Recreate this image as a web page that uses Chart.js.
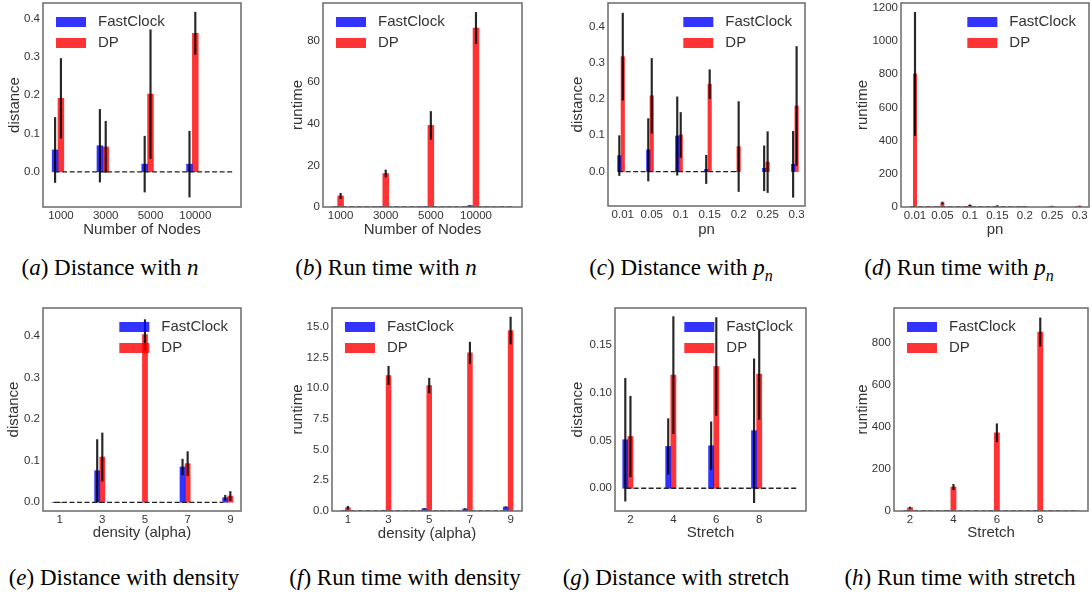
<!DOCTYPE html>
<html lang="en">
<head>
<meta charset="UTF-8">
<title>FastClock vs DP</title>
<style>
  body { margin: 0; background: #fff; }
  #fig { position: relative; width: 1092px; height: 596px; overflow: hidden; }
  #fig canvas { position: absolute; }
  .cap {
    position: absolute;
    font-family: 'Liberation Serif', 'Times New Roman', serif;
    font-size: 23px;
    line-height: 23px;
    color: #000;
    white-space: nowrap;
    transform: translateX(-50%);
  }
  .cap sub { font-size: 16px; line-height: 0; }
</style>
</head>
<body>
<div id="fig">
  <div class="cap" style="left:110px; top:256px">(<i>a</i>) Distance with <i>n</i></div>
  <div class="cap" style="left:386px; top:256px">(<i>b</i>) Run time with <i>n</i></div>
  <div class="cap" style="left:681px; top:256px">(<i>c</i>) Distance with <i>p</i><sub><i>n</i></sub></div>
  <div class="cap" style="left:959px; top:256px">(<i>d</i>) Run time with <i>p</i><sub><i>n</i></sub></div>
  <div class="cap" style="left:124px; top:566px">(<i>e</i>) Distance with density</div>
  <div class="cap" style="left:405px; top:566px">(<i>f</i>) Run time with density</div>
  <div class="cap" style="left:676px; top:566px">(<i>g</i>) Distance with stretch</div>
  <div class="cap" style="left:960px; top:566px">(<i>h</i>) Run time with stretch</div>
</div>

<script src="https://cdn.jsdelivr.net/npm/chart.js"></script>
<script>
// ---- data ----
const seriesNames = ['FastClock', 'DP'];

const nodeLabels = ['1000', '3000', '5000', '10000'];
const pnLabels = ['0.01', '0.05', '0.1', '0.15', '0.2', '0.25', '0.3'];
const alphaLabels = ['1', '3', '5', '7', '9'];
const stretchLabels = ['2', '4', '6', '8'];

// (a) distance vs number of nodes
const distNodesFC = [0.057, 0.068, 0.020, 0.020];
const distNodesFCErr = [0.085, 0.095, 0.073, 0.086];
const distNodesDP = [0.192, 0.065, 0.203, 0.362];
const distNodesDPErr = [0.104, 0.067, 0.168, 0.055];

// (b) runtime vs number of nodes
const timeNodesFC = [0.1, 0.1, 0.1, 0.6];
const timeNodesFCErr = [0.05, 0.05, 0.05, 0.1];
const timeNodesDP = [5.3, 16.1, 39.2, 86.0];
const timeNodesDPErr = [1.3, 1.7, 6.7, 7.5];

// (c) distance vs pn
const distPnFC = [0.044, 0.060, 0.098, 0.006, 0.0, 0.009, 0.020];
const distPnFCErr = [0.055, 0.086, 0.108, 0.039, 0.0, 0.062, 0.091];
const distPnDP = [0.317, 0.209, 0.101, 0.241, 0.069, 0.026, 0.181];
const distPnDPErr = [0.120, 0.103, 0.062, 0.040, 0.124, 0.084, 0.164];

// (d) runtime vs pn
const timePnFC = [0.3, 0.3, 0.3, 0.3, 0.3, 0.3, 0.3];
const timePnFCErr = [0.1, 0.1, 0.1, 0.1, 0.1, 0.1, 0.1];
const timePnDP = [802, 24, 10, 6, 3, 4, 5];
const timePnDPErr = [372, 6, 3, 2, 1, 1, 1];

// (e) distance vs density
const distAlphaFC = [0.0, 0.076, 0.0, 0.085, 0.011];
const distAlphaFCErr = [0.0, 0.075, 0.0, 0.019, 0.006];
const distAlphaDP = [0.0, 0.109, 0.404, 0.093, 0.015];
const distAlphaDPErr = [0.0, 0.058, 0.036, 0.029, 0.011];

// (f) runtime vs density
const timeAlphaFC = [0.02, 0.05, 0.19, 0.17, 0.32];
const timeAlphaFCErr = [0.01, 0.01, 0.02, 0.02, 0.03];
const timeAlphaDP = [0.27, 11.04, 10.22, 12.88, 14.70];
const timeAlphaDPErr = [0.12, 0.75, 0.60, 0.88, 1.10];

// (g) distance vs stretch
const distStretchFC = [0.0506, 0.0436, 0.0443, 0.060];
const distStretchFCErr = [0.064, 0.029, 0.025, 0.075];
const distStretchDP = [0.054, 0.118, 0.127, 0.119];
const distStretchDPErr = [0.042, 0.061, 0.051, 0.047];

// (h) runtime vs stretch
const timeStretchFC = [0.3, 0.3, 0.3, 0.3];
const timeStretchFCErr = [0.1, 0.1, 0.1, 0.1];
const timeStretchDP = [15.8, 114, 372, 852];
const timeStretchDPErr = [3, 13, 43, 67];

// y tick labels
const yTicksDist1 = [0.0, 0.1, 0.2, 0.3, 0.4];
const yTicksTimeNodes = [0, 20, 40, 60, 80];
const yTicksTimePn = [0, 200, 400, 600, 800, 1000, 1200];
const yTicksTimeAlpha = [0.0, 2.5, 5.0, 7.5, 10.0, 12.5, 15.0];
const yTicksDistStretch = [0.00, 0.05, 0.10, 0.15];
const yTicksTimeStretch = [0, 200, 400, 600, 800];

// ---- styling ----
Chart.defaults.font.family = "'Liberation Sans', Arial, sans-serif";
Chart.defaults.color = '#333';

const fcColor = 'rgba(0, 0, 255, 0.8)';
const dpColor = 'rgba(255, 0, 0, 0.8)';
const errColor = 'rgba(0, 0, 0, 0.85)';

// matplotlib-like box around the plot area
const framePlugin = {
  id: 'frame',
  afterDraw(chart) {
    const { ctx, chartArea: a } = chart;
    ctx.save();
    ctx.strokeStyle = '#6a6a6a';
    ctx.lineWidth = 1.5;
    ctx.strokeRect(a.left, a.top, a.right - a.left, a.bottom - a.top);
    ctx.restore();
  }
};

// legend drawn inside the axes, like plt.legend(loc=...)
const boxLegend = {
  id: 'boxLegend',
  afterDatasetsDraw(chart, args, opts) {
    const { ctx, chartArea: a } = chart;
    const items = chart.data.datasets.filter(d => d.inLegend);
    ctx.save();
    ctx.font = "15px 'Liberation Sans', Arial, sans-serif";
    ctx.textBaseline = 'middle';
    const textW = Math.max(...items.map(d => ctx.measureText(d.label).width));
    const sw = 30, sh = 10, gap = 12, pad = 13;
    const x0 = opts.align === 'right' ? a.right - pad - textW - gap - sw : a.left + pad;
    items.forEach((d, k) => {
      const cy = a.top + 19 + k * 21;
      ctx.fillStyle = d.backgroundColor;
      ctx.fillRect(x0, cy - sh / 2, sw, sh);
      ctx.fillStyle = '#333';
      ctx.fillText(d.label, x0 + sw + gap, cy);
    });
    ctx.restore();
  }
};

const panels = [
  { frame: [43, 3, 241, 207], yTitleX: 14.5, xTitleY: 229.5, xRange: [-0.40, 4.02], yRange: [-0.092, 0.441],
    bw: 0.13, base: [-0.14, 3.85], labels: nodeLabels, yTicks: yTicksDist1, dec: 1,
    fc: distNodesFC, fcErr: distNodesFCErr, dp: distNodesDP, dpErr: distNodesDPErr,
    xTitle: 'Number of Nodes', yTitle: 'distance', legend: 'left' },
  { frame: [323, 3, 522, 207], yTitleX: 298.3, xTitleY: 229.5, xRange: [-0.39, 4.02], yRange: [0, 98],
    bw: 0.13, base: [-0.14, 3.85], labels: nodeLabels, yTicks: yTicksTimeNodes, dec: 0,
    fc: timeNodesFC, fcErr: timeNodesFCErr, dp: timeNodesDP, dpErr: timeNodesDPErr,
    xTitle: 'Number of Nodes', yTitle: 'runtime', legend: 'left' },
  { frame: [608, 3, 805, 206], yTitleX: 578.3, xTitleY: 229.5, xRange: [-0.51, 6.29], yRange: [-0.095, 0.465],
    bw: 0.12, base: [-0.16, 4.0], labels: pnLabels, yTicks: yTicksDist1, dec: 1,
    fc: distPnFC, fcErr: distPnFCErr, dp: distPnDP, dpErr: distPnDPErr,
    xTitle: 'pn', yTitle: 'distance', legend: 'right' },
  { frame: [901, 3, 1089, 207], yTitleX: 863.3, xTitleY: 229.5, xRange: [-0.51, 6.34], yRange: [0, 1230],
    bw: 0.12, base: [-0.16, 4.0], labels: pnLabels, yTicks: yTicksTimePn, dec: 0,
    fc: timePnFC, fcErr: timePnFCErr, dp: timePnDP, dpErr: timePnDPErr,
    xTitle: 'pn', yTitle: 'runtime', legend: 'right' },
  { frame: [43, 308, 241, 511], yTitleX: 14, xTitleY: 532.7, xRange: [-0.39, 4.25], yRange: [-0.021, 0.468],
    bw: 0.12, base: [-0.12, 3.83], labels: alphaLabels, yTicks: yTicksDist1, dec: 1,
    fc: distAlphaFC, fcErr: distAlphaFCErr, dp: distAlphaDP, dpErr: distAlphaDPErr,
    xTitle: 'density (alpha)', yTitle: 'distance', legend: 'right' },
  { frame: [332, 308, 522, 511], yTitleX: 298.3, xTitleY: 534, xRange: [-0.39, 4.28], yRange: [0, 16.54],
    bw: 0.12, base: [-0.12, 3.83], labels: alphaLabels, yTicks: yTicksTimeAlpha, dec: 1,
    fc: timeAlphaFC, fcErr: timeAlphaFCErr, dp: timeAlphaDP, dpErr: timeAlphaDPErr,
    xTitle: 'density (alpha)', yTitle: 'runtime', legend: 'left' },
  { frame: [615, 308, 806, 511], yTitleX: 578.3, xTitleY: 533.3, xRange: [-0.36, 4.09], yRange: [-0.0237, 0.188],
    bw: 0.12, base: [-0.10, 3.9], labels: stretchLabels, yTicks: yTicksDistStretch, dec: 2,
    fc: distStretchFC, fcErr: distStretchFCErr, dp: distStretchDP, dpErr: distStretchDPErr,
    xTitle: 'Stretch', yTitle: 'distance', legend: 'right' },
  { frame: [894, 308, 1088, 511], yTitleX: 863.3, xTitleY: 533.3, xRange: [-0.37, 4.1], yRange: [0, 966],
    bw: 0.12, base: [-0.10, 3.9], labels: stretchLabels, yTicks: yTicksTimeStretch, dec: 0,
    fc: timeStretchFC, fcErr: timeStretchFCErr, dp: timeStretchDP, dpErr: timeStretchDPErr,
    xTitle: 'Stretch', yTitle: 'runtime', legend: 'left' }
];

const fig = document.getElementById('fig');

function buildPanel(p) {
  const [L, T, R, B] = p.frame;
  const padTop = 10, padRight = 12;
  const cLeft = Math.round(p.yTitleX - 9);
  const cTop = T - padTop;
  const yw = L - cLeft;
  const xh = Math.round(p.xTitleY - B + 9);
  const canvas = document.createElement('canvas');
  canvas.width = R - cLeft + padRight;
  canvas.height = B - cTop + xh;
  canvas.style.left = cLeft + 'px';
  canvas.style.top = cTop + 'px';
  fig.appendChild(canvas);

  const thick = p.bw * (R - L) / (p.xRange[1] - p.xRange[0]);
  const idx = p.labels.map((_, i) => i);
  const errBar = (vals, errs, shift) => idx.map(i => ({ x: i + shift, y: [vals[i] - errs[i], vals[i] + errs[i]] }));

  new Chart(canvas, {
    type: 'bar',
    data: {
      datasets: [
        { label: 'fc err', data: errBar(p.fc, p.fcErr, -p.bw), backgroundColor: errColor,
          barThickness: 1.5, grouped: false, order: 0 },
        { label: 'dp err', data: errBar(p.dp, p.dpErr, 0), backgroundColor: errColor,
          barThickness: 1.5, grouped: false, order: 0 },
        { type: 'line', label: 'zero', data: p.base.map(x => ({ x, y: 0 })), borderColor: '#222',
          borderWidth: 1.3, borderDash: [5, 2.5], pointRadius: 0, order: 1 },
        { label: seriesNames[0], inLegend: true, data: idx.map(i => ({ x: i - p.bw, y: p.fc[i] })),
          backgroundColor: fcColor, barThickness: thick, grouped: false, order: 2 },
        { label: seriesNames[1], inLegend: true, data: idx.map(i => ({ x: i, y: p.dp[i] })),
          backgroundColor: dpColor, barThickness: thick, grouped: false, order: 2 }
      ]
    },
    options: {
      responsive: false,
      animation: false,
      events: [],
      layout: { padding: { left: 0, top: padTop, right: padRight, bottom: 0 } },
      plugins: {
        legend: { display: false },
        tooltip: { enabled: false },
        boxLegend: { align: p.legend }
      },
      scales: {
        x: {
          type: 'linear',
          offset: false,
          min: p.xRange[0],
          max: p.xRange[1],
          grid: { display: false, drawTicks: false },
          border: { display: false },
          afterBuildTicks: s => { s.ticks = idx.map(v => ({ value: v })); },
          afterFit: s => { s.height = xh; },
          ticks: {
            autoSkip: false, maxRotation: 0, padding: 2,
            font: { size: 11.5 },
            callback: v => p.labels[v]
          },
          title: { display: true, text: p.xTitle, font: { size: 15 }, padding: 0 }
        },
        y: {
          min: p.yRange[0],
          max: p.yRange[1],
          grid: { display: false, drawTicks: false },
          border: { display: false },
          afterBuildTicks: s => { s.ticks = p.yTicks.map(v => ({ value: v })); },
          afterFit: s => { s.width = yw; },
          ticks: {
            padding: 3,
            font: { size: 11.5 },
            callback: v => Number(v).toFixed(p.dec)
          },
          title: { display: true, text: p.yTitle, font: { size: 15 }, padding: 0 }
        }
      }
    },
    plugins: [boxLegend, framePlugin]
  });
}

panels.forEach(buildPanel);
</script>
</body>
</html>
